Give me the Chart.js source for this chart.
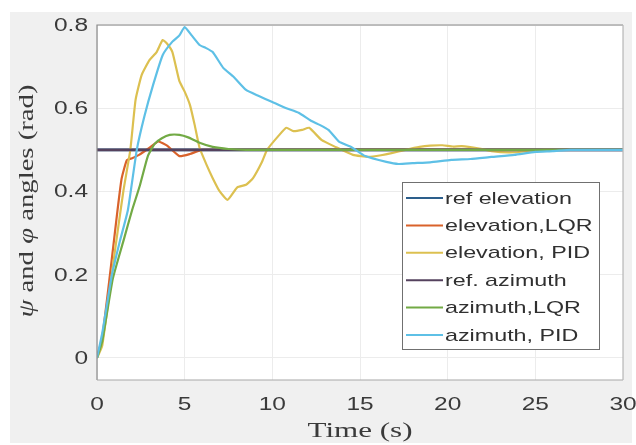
<!DOCTYPE html>
<html>
<head>
<meta charset="utf-8">
<script src="https://cdn.jsdelivr.net/npm/chart.js@4/dist/chart.umd.min.js"></script>
<style>
html,body{margin:0;padding:0;background:#fff;}
#wrap{width:636px;height:445px;}
</style>
</head>
<body>
<div id="wrap"><canvas id="c" width="636" height="445"></canvas></div>
<script>
// ---- data ----
const seriesLabels = ["ref elevation","elevation,LQR","elevation, PID","ref. azimuth","azimuth,LQR","azimuth, PID"];

const refT = [0, 30];
const refElevY = [0.5, 0.5];
const refAzY = [0.5, 0.5];

const elevLqrT = [0,0.3,0.74,1.1,1.4,1.7,2.0,2.4,3.0,3.5,4.0,4.7,5.3,6.0,30];
const elevLqrY = [0,0.05,0.2,0.33,0.43,0.475,0.48,0.488,0.505,0.52,0.51,0.485,0.49,0.5,0.5];

const elevPidT = [0,0.3,1.0,1.5,1.9,2.2,2.55,3.0,3.4,3.75,4.0,4.3,4.7,5.0,5.3,5.57,5.85,6.25,6.6,7.0,7.45,8.0,8.5,8.9,9.4,9.7,10.4,10.8,11.2,11.7,12.1,12.8,13.6,14.6,15.5,16.2,16.8,17.6,18.4,19.0,19.7,20.3,20.8,21.8,22.5,23.5,24.5,25.5,30];
const elevPidY = [0,0.03,0.25,0.40,0.50,0.62,0.68,0.716,0.735,0.764,0.755,0.735,0.665,0.64,0.608,0.56,0.505,0.464,0.432,0.40,0.38,0.41,0.416,0.432,0.47,0.50,0.536,0.553,0.545,0.548,0.553,0.524,0.507,0.488,0.483,0.487,0.492,0.50,0.507,0.51,0.511,0.508,0.509,0.503,0.497,0.494,0.496,0.50,0.50];

const azLqrT = [0,0.3,0.9,1.5,2.0,2.45,2.9,3.3,3.7,4.15,4.7,5.2,5.85,6.6,7.5,8.5,30];
const azLqrY = [0,0.04,0.19,0.28,0.355,0.415,0.485,0.515,0.528,0.536,0.536,0.53,0.517,0.507,0.502,0.5,0.5];

const azPidT = [0,0.3,0.85,1.3,1.76,2.27,2.7,3.2,3.75,4.3,4.7,5.0,5.4,5.85,6.2,6.6,7.2,7.8,8.5,9.2,10.0,10.8,11.5,12.2,12.7,13.2,13.8,14.5,15.3,16.5,17.2,18.0,19.0,20.2,21.3,22.5,23.8,25.0,26.0,27.0,30];
const azPidY = [0,0.06,0.2,0.28,0.355,0.5,0.58,0.656,0.728,0.76,0.775,0.795,0.775,0.752,0.745,0.735,0.697,0.675,0.644,0.63,0.615,0.6,0.589,0.57,0.56,0.548,0.52,0.507,0.485,0.471,0.466,0.468,0.47,0.476,0.478,0.483,0.488,0.495,0.497,0.5,0.5];

const xTicks = [0,5,10,15,20,25,30];
const yTicks = [0,0.2,0.4,0.6,0.8];
const xTickLabels = ["0","5","10","15","20","25","30"];
const yTickLabels = ["0","0.2","0.4","0.6","0.8"];

// ---- styles ----
const colors = ["#2d5f8c","#d9622b","#dcc050","#55425e","#72aa45","#5ec0e6"];
const widths = [2.6,2.2,2.2,2.8,2.2,2.2];
const stretch = 1.36;

function pts(t, y){ return t.map((v,i)=>({x:v, y:y[i]})); }
const seriesData = [pts(refT,refElevY), pts(elevLqrT,elevLqrY), pts(elevPidT,elevPidY),
                    pts(refT,refAzY), pts(azLqrT,azLqrY), pts(azPidT,azPidY)];

const datasets = seriesData.map((d,i)=>({
  label: seriesLabels[i], data: d, showLine: true, borderColor: colors[i],
  backgroundColor: colors[i], borderWidth: widths[i], pointRadius: 0, tension: 0.15,
  order: 5 - i
}));

function sText(ctx, txt, x, y, align, sx){
  ctx.save(); ctx.translate(x, y); ctx.scale(sx, 1);
  ctx.textAlign = align; ctx.fillText(txt, 0, 0); ctx.restore();
}

const deco = {
  id: 'deco',
  beforeDraw(chart){
    const ctx = chart.ctx, a = chart.chartArea;
    ctx.save();
    ctx.fillStyle = '#ffffff'; ctx.fillRect(0,0,chart.width,chart.height);
    ctx.fillStyle = '#f0f0f0'; ctx.fillRect(10,12,622,431);
    ctx.fillStyle = '#ffffff'; ctx.fillRect(a.left,a.top,a.right-a.left,a.bottom-a.top);
    ctx.restore();
  },
  afterDraw(chart){
    const ctx = chart.ctx, a = chart.chartArea;
    const xs = chart.scales.x, ys = chart.scales.y;
    ctx.save();
    // axes box
    ctx.strokeStyle = '#8a8a8a'; ctx.lineWidth = 1.2;
    ctx.beginPath(); ctx.moveTo(a.left, a.bottom); ctx.lineTo(a.left, a.top); ctx.lineTo(a.right, a.top); ctx.stroke();
    ctx.beginPath(); ctx.moveTo(a.left, a.bottom); ctx.lineTo(a.right, a.bottom); ctx.strokeStyle='#a8a8a8'; ctx.stroke();
    ctx.beginPath(); ctx.moveTo(a.right, a.bottom); ctx.lineTo(a.right, a.top); ctx.strokeStyle='#b8b8b8'; ctx.stroke();
    // tick labels
    ctx.fillStyle = '#3a3a3a'; ctx.font = '18px "Liberation Sans", Arial, sans-serif';
    ctx.textBaseline = 'middle';
    yTicks.forEach((v,i)=>{ sText(ctx, yTickLabels[i], a.left - 9, ys.getPixelForValue(v)+1, 'right', stretch); });
    xTicks.forEach((v,i)=>{ sText(ctx, xTickLabels[i], xs.getPixelForValue(v), 405, 'center', stretch); });
    // x title
    ctx.font = '22px "Liberation Serif", "Times New Roman", serif';
    const xt = "Time (s)";
    const xw = ctx.measureText(xt).width;
    sText(ctx, xt, 360, 431, 'center', 105 / xw);
    // y title (rotated, mixed italic)
    const segs = [["ψ",true],[" and ",false],["φ",true],[" angles (rad)",false]];
    const fN = '20px "Liberation Serif", "Times New Roman", serif';
    const fI = 'italic 20px "Liberation Serif", "Times New Roman", serif';
    let tw = 0; const ws = segs.map(s=>{ ctx.font = s[1]?fI:fN; const w = ctx.measureText(s[0]).width; tw += w; return w; });
    ctx.save(); ctx.translate(28, 201); ctx.rotate(-Math.PI/2); ctx.scale(233/tw, 1);
    ctx.textAlign = 'left'; ctx.textBaseline = 'middle';
    let px = -tw/2;
    segs.forEach((s,i)=>{ ctx.font = s[1]?fI:fN; ctx.fillText(s[0], px, 0); px += ws[i]; });
    ctx.restore();
    // legend
    ctx.fillStyle = '#ffffff'; ctx.fillRect(402,182,197,167);
    ctx.strokeStyle = '#707070'; ctx.lineWidth = 1; ctx.strokeRect(402.5,182.5,197,167);
    ctx.font = '17px "Liberation Sans", Arial, sans-serif'; ctx.textBaseline = 'middle';
    seriesLabels.forEach((lab,i)=>{
      const y = 198 + i*27.4;
      ctx.strokeStyle = colors[i]; ctx.lineWidth = 2;
      ctx.beginPath(); ctx.moveTo(406, y); ctx.lineTo(443, y); ctx.stroke();
      ctx.fillStyle = '#303030';
      sText(ctx, lab, 445, y+1, 'left', 1.37);
    });
    ctx.restore();
  }
};

new Chart(document.getElementById('c'), {
  type: 'scatter',
  data: { datasets },
  options: {
    responsive: false, animation: false, devicePixelRatio: 1,
    layout: { padding: { left: 0, top: 25, right: 13, bottom: 0 } },
    plugins: { legend: { display: false }, tooltip: { enabled: false } },
    scales: {
      x: {
        type: 'linear', min: 0, max: 30,
        afterBuildTicks: s => { s.ticks = xTicks.map(v=>({value:v})); },
        afterFit: s => { s.height = 65; },
        ticks: { display: false },
        grid: { color: '#ececec', lineWidth: 1, drawTicks: false },
        border: { display: false }
      },
      y: {
        type: 'linear', min: -0.053, max: 0.8,
        afterBuildTicks: s => { s.ticks = yTicks.map(v=>({value:v})); },
        afterFit: s => { s.width = 97; },
        ticks: { display: false },
        grid: { color: '#ececec', lineWidth: 1, drawTicks: false },
        border: { display: false }
      }
    }
  },
  plugins: [deco]
});
</script>
</body>
</html>
